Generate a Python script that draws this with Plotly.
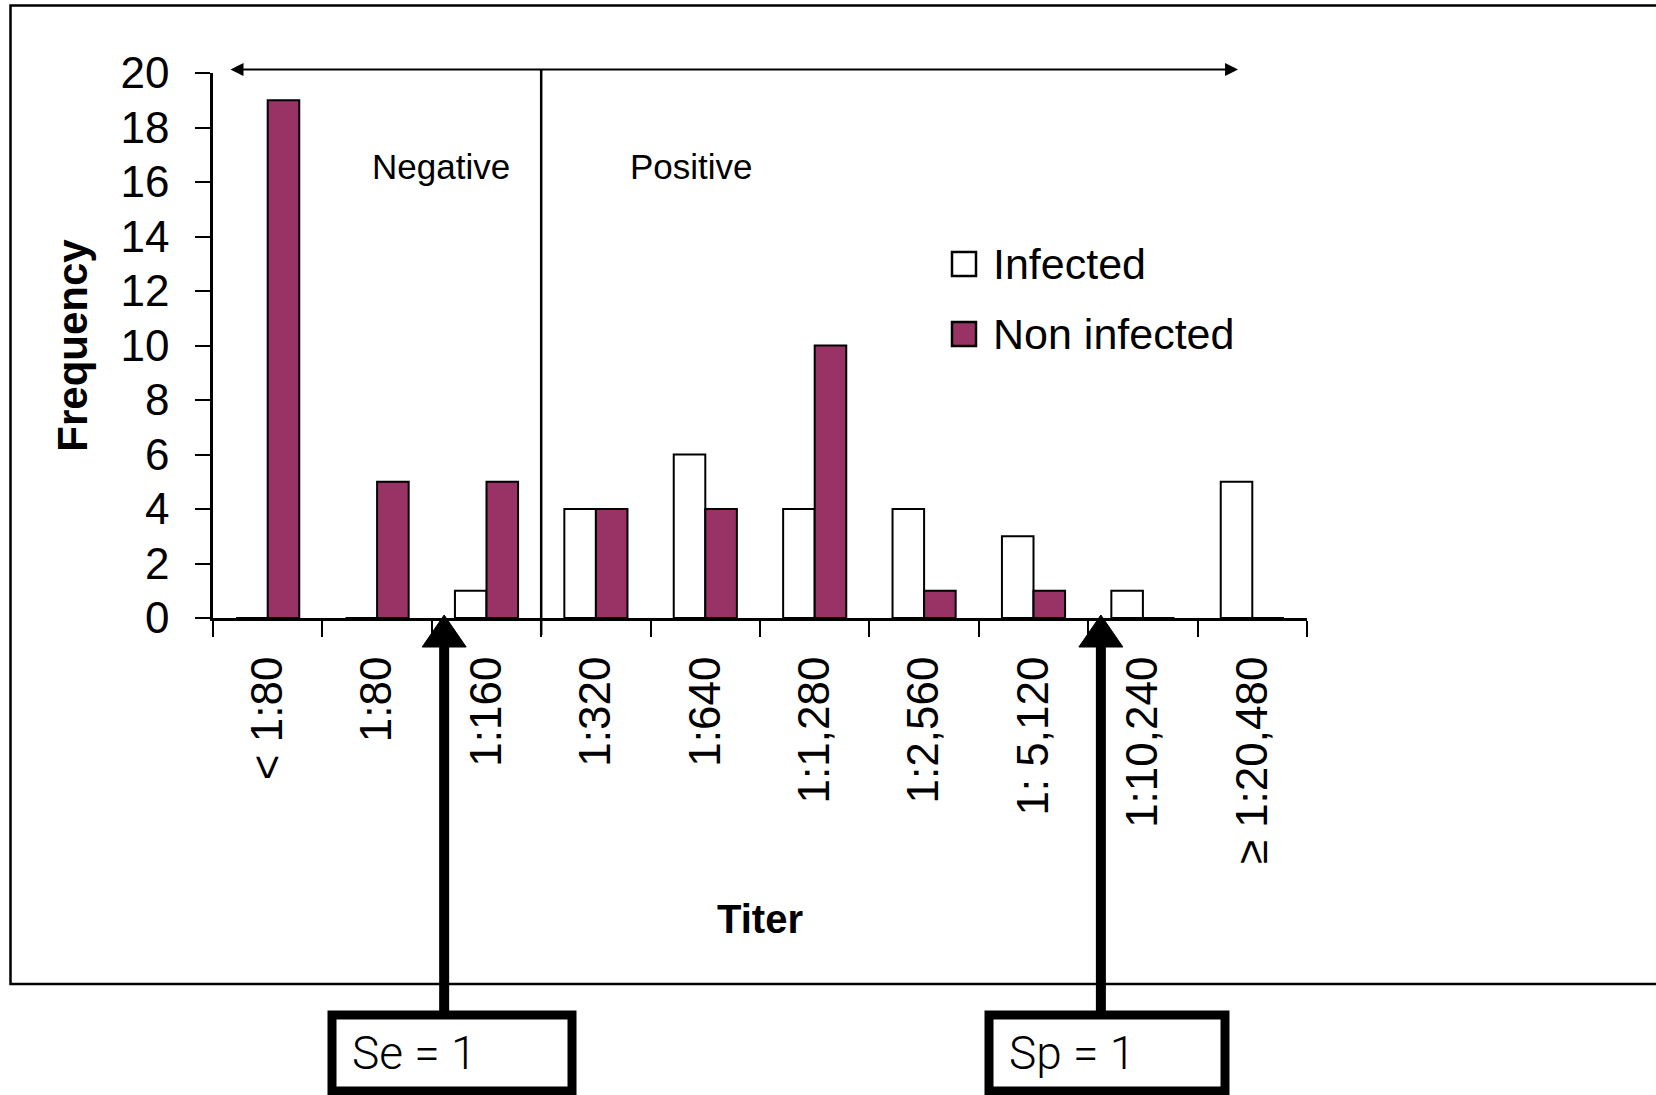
import plotly.graph_objects as go

# ---------------- data ----------------
titers = ["< 1:80", "1:80", "1:160", "1:320", "1:640", "1:1,280",
          "1:2,560", "1: 5,120", "1:10,240", "≥ 1:20,480"]
infected = [0, 0, 1, 4, 6, 4, 4, 3, 1, 5]
non_infected = [19, 5, 5, 4, 4, 10, 1, 1, 0, 0]
series_names = ["Infected", "Non infected"]
series_colors = ["#FFFFFF", "#993366"]
y_ticks = list(range(0, 21, 2))
zone_labels = ["Negative", "Positive"]
cutoff_labels = ["Se = 1", "Sp = 1"]

# ---------------- layout geometry (pixels) ----------------
W, H = 1656, 1095
ML, MR, MT, MB = 213, 349, 73, 477
PW, PH = W - ML - MR, H - MT - MB
FONT = "Liberation Sans, Arial, sans-serif"


def px(x):
    return (x - ML) / PW


def py(y):
    return (H - MB - y) / PH


# positions on the category axis (category index units)
neg_pos_boundary = 2.5
se_cut, sp_cut = 1.613, 7.616
arrow_span = (-0.354, 8.87)
zone_label_x = [1.587, 3.877]
zone_label_y = 16.56

fig = go.Figure()
for name, vals, col in zip(series_names, [infected, non_infected], series_colors):
    fig.add_trace(go.Bar(
        x=titers, y=vals, name=name, showlegend=False,
        marker=dict(color=col, line=dict(color="black", width=2)),
    ))

shapes = []
annotations = []

# outer frame
shapes.append(dict(type="rect", xref="paper", yref="paper",
                   x0=px(10.5), x1=px(1700), y0=py(5.5), y1=py(984),
                   line=dict(color="black", width=2.5), fillcolor="rgba(0,0,0,0)"))

# vertical negative/positive divider
shapes.append(dict(type="line", xref="x", yref="paper",
                   x0=neg_pos_boundary, x1=neg_pos_boundary, y0=py(635), y1=py(69.5),
                   line=dict(color="black", width=2.5)))

# double headed arrow across top
annotations.append(dict(xref="x", yref="paper", x=arrow_span[1], y=py(69.5),
                        axref="x", ayref="pixel", ax=arrow_span[0], ay=0,
                        text="", showarrow=True, arrowside="end+start",
                        arrowhead=2, arrowsize=1.3, startarrowhead=2, startarrowsize=1.3,
                        arrowwidth=2, arrowcolor="black"))

for lab, lx in zip(zone_labels, zone_label_x):
    annotations.append(dict(xref="x", yref="y", x=lx, y=zone_label_y, text=lab,
                            showarrow=False, font=dict(family=FONT, size=35, color="black"),
                            xanchor="center", yanchor="middle"))

# cutoff arrows and boxes
box_lefts = [332, 989]
box_rights = [572, 1225]
for cut, lab, bl, br in zip([se_cut, sp_cut], cutoff_labels, box_lefts, box_rights):
    shapes.append(dict(type="line", xref="x", yref="paper", x0=cut, x1=cut,
                       y0=py(640), y1=py(1012), line=dict(color="black", width=10)))
    shapes.append(dict(type="path", xref="x", yref="paper", xsizemode="pixel", ysizemode="pixel",
                       xanchor=cut, yanchor=py(618), path="M0,3 L-22,-29 L22,-29 Z",
                       fillcolor="black", line=dict(color="black", width=1)))
    shapes.append(dict(type="rect", xref="paper", yref="paper",
                       x0=px(bl), x1=px(br), y0=py(1015), y1=py(1091),
                       line=dict(color="black", width=9), fillcolor="white"))
    annotations.append(dict(xref="paper", yref="paper", x=px(bl + 18), y=py(1053),
                            text=lab, showarrow=False, xanchor="left", yanchor="middle",
                            font=dict(family="Roboto, Liberation Sans Narrow, sans-serif",
                                      size=46, color="black", weight=300)))

# legend (drawn manually for large swatches)
leg_y = [264, 334]
for name, col, ly in zip(series_names, series_colors, leg_y):
    shapes.append(dict(type="rect", xref="paper", yref="paper",
                       x0=px(952), x1=px(976), y0=py(ly - 12), y1=py(ly + 12),
                       line=dict(color="black", width=2.5), fillcolor=col))
    annotations.append(dict(xref="paper", yref="paper", x=px(991), y=py(ly),
                            text=name, showarrow=False, xanchor="left", yanchor="middle",
                            font=dict(family=FONT, size=43, color="black")))

fig.update_layout(
    width=W, height=H,
    margin=dict(l=ML, r=MR, t=MT, b=MB, pad=0),
    paper_bgcolor="white", plot_bgcolor="white",
    barmode="group", bargap=0.423, bargroupgap=0,
    showlegend=False,
    shapes=shapes, annotations=annotations,
    font=dict(family=FONT, color="black"),
)
fig.update_xaxes(
    type="category", categoryorder="array", categoryarray=titers,
    tickson="boundaries", ticks="outside", ticklen=16, tickwidth=2, tickcolor="black",
    showline=True, linecolor="black", linewidth=3, showgrid=False, zeroline=False,
    tickangle=-90, tickfont=dict(family=FONT, size=44, color="black"),
    ticklabelstandoff=18,
    title=dict(text="Titer", font=dict(family=FONT, size=40, color="black", weight="bold"),
               standoff=42),
)
fig.update_yaxes(
    range=[0, 20], tickvals=y_ticks, ticks="outside", ticklen=15, tickwidth=2,
    tickcolor="black", showline=True, linecolor="black", linewidth=2.5,
    showgrid=False, zeroline=False,
    tickfont=dict(family=FONT, size=44, color="black"), ticklabelstandoff=17,
    title=dict(text="Frequency", font=dict(family=FONT, size=42, color="black", weight="bold"),
               standoff=20),
)

fig.write_html("out.html", config={"displayModeBar": False},
               post_script="document.body.style.margin='0';")
